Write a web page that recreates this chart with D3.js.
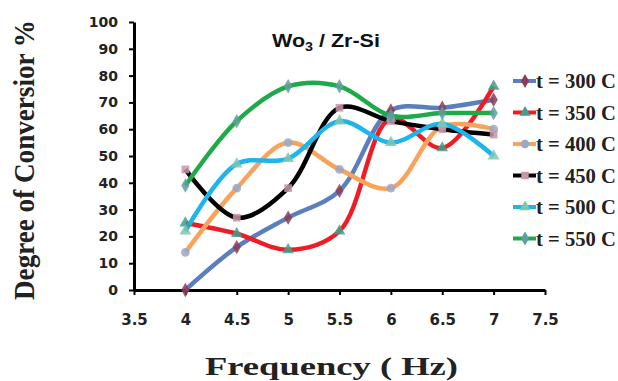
<!DOCTYPE html>
<html>
<head>
<meta charset="utf-8">
<script src="https://cdn.jsdelivr.net/npm/d3@7"></script>
<style>
  body { margin: 0; background: #fff; }
  svg { display: block; }
</style>
</head>
<body>
<figure id="chart" style="margin:0"></figure>
<script>
// frequency (Hz)
const freqs = [4, 4.5, 5, 5.5, 6, 6.5, 7];
const xTicks = [3.5, 4, 4.5, 5, 5.5, 6, 6.5, 7, 7.5];
const yTicks = [0, 10, 20, 30, 40, 50, 60, 70, 80, 90, 100];

const seriesNames = ["t = 300 C", "t = 350 C", "t = 400 C", "t = 450 C", "t = 500 C", "t = 550 C"];
const t300 = [0, 16, 27, 37, 67, 68, 71];
const t350 = [25, 21, 15, 22, 64, 53, 76];
const t400 = [14, 38, 55, 45, 38, 61, 60];
const t450 = [45, 27, 38, 68, 63, 60, 58];
const t500 = [22, 47, 49, 63, 55, 62, 50];
const t550 = [39, 63, 76, 76, 65, 66, 66];

const lineColors = ["#5b7fbd", "#ee1c24", "#f7a35c", "#000000", "#1fb5ea", "#1faa4a"];
const markerColors = ["#8c3c55", "#3f9f8c", "#9aa8c8", "#c995a8", "#7cc7b0", "#5f9ea0"];
const markerShapes = [d3.symbolDiamond, d3.symbolTriangle, d3.symbolCircle, d3.symbolSquare, d3.symbolTriangle, d3.symbolDiamond];

const series = [t300, t350, t400, t450, t500, t550].map((vals, i) => ({
  name: seriesNames[i],
  values: vals.map((v, j) => ({ f: freqs[j], v: v })),
  color: lineColors[i],
  marker: markerColors[i],
  shape: markerShapes[i]
}));

const width = 618, height = 381;
const svg = d3.select("#chart").append("svg")
  .attr("width", width)
  .attr("height", height);

const x = d3.scaleLinear().domain([3.5, 7.5]).range([134, 545]);
const y = d3.scaleLinear().domain([0, 100]).range([290, 22]);

// stretch a text horizontally so it fills the given width (source picture is widened)
function fitWidth(sel, w) {
  sel.attr("textLength", w).attr("lengthAdjust", "spacingAndGlyphs");
}

// axes
const xAxis = svg.append("g")
  .attr("transform", "translate(0," + y(0) + ")")
  .call(d3.axisBottom(x).tickValues(xTicks).tickSize(5).tickSizeOuter(0)
    .tickFormat(d => String(d)));
const yAxis = svg.append("g")
  .attr("transform", "translate(" + x(3.5) + ",0)")
  .call(d3.axisLeft(y).tickValues(yTicks).tickSize(5).tickSizeOuter(0));

[xAxis, yAxis].forEach(g => {
  g.select(".domain").attr("stroke", "#000").attr("stroke-width", 3);
  g.selectAll(".tick line").attr("stroke", "#000").attr("stroke-width", 2);
  g.selectAll(".tick text")
    .attr("font-family", "DejaVu Sans, sans-serif")
    .attr("font-weight", "bold")
    .attr("fill", "#222");
});
xAxis.selectAll(".tick text").attr("font-size", 15).attr("y", 0).attr("dy", 0)
  .attr("transform", "translate(0,35)");
yAxis.selectAll(".tick text").attr("font-size", 14).attr("x", -16);

// lines
const line = d3.line()
  .x(d => x(d.f))
  .y(d => y(d.v))
  .curve(d3.curveCatmullRom.alpha(0.5));

const plot = svg.append("g");
series.forEach(s => {
  plot.append("path")
    .datum(s.values)
    .attr("fill", "none")
    .attr("stroke", s.color)
    .attr("stroke-width", 4.5)
    .attr("stroke-linejoin", "round")
    .attr("d", line);
});
series.forEach(s => {
  plot.selectAll(null)
    .data(s.values)
    .enter()
    .append("path")
    .attr("transform", d => "translate(" + x(d.f) + "," + y(d.v) + ")")
    .attr("d", d3.symbol().type(s.shape).size(60))
    .attr("fill", s.marker)
    .attr("opacity", 0.85);
});

// title
const title = svg.append("text")
  .attr("x", 272)
  .attr("y", 47)
  .attr("font-family", "Liberation Sans, Arial, sans-serif")
  .attr("font-weight", "bold")
  .attr("font-size", 18)
  .attr("fill", "#111");
title.append("tspan").text("Wo");
title.append("tspan").attr("font-size", 12).attr("dy", 4).text("3");
title.append("tspan").attr("dy", -4).text(" / Zr-Si");
const tl = title.node().getComputedTextLength();
title.attr("transform", "translate(272,0) scale(" + (108 / tl) + ",1) translate(-272,0)");

// legend
const legend = svg.append("g");
series.forEach((s, i) => {
  const ly = 81 + i * 31.5;
  legend.append("line")
    .attr("x1", 513).attr("x2", 536)
    .attr("y1", ly).attr("y2", ly)
    .attr("stroke", s.color)
    .attr("stroke-width", 4);
  legend.append("path")
    .attr("transform", "translate(525," + ly + ")")
    .attr("d", d3.symbol().type(s.shape).size(55))
    .attr("fill", s.marker);
  const t = legend.append("text")
    .attr("x", 536)
    .attr("y", ly + 7)
    .attr("font-family", "Liberation Serif, Times New Roman, serif")
    .attr("font-weight", "bold")
    .attr("font-size", 20)
    .attr("fill", "#222")
    .text(s.name);
  fitWidth(t, 80);
});

// axis titles
const yt = svg.append("text")
  .attr("transform", "translate(34,160) scale(1.35,1) rotate(-90)")
  .attr("text-anchor", "middle")
  .attr("font-family", "Liberation Serif, Times New Roman, serif")
  .attr("font-weight", "bold")
  .attr("font-size", 22)
  .attr("fill", "#222")
  .text("Degree of Conversior  %");
fitWidth(yt, 280);

const xt = svg.append("text")
  .attr("x", 205)
  .attr("y", 375)
  .attr("font-family", "Liberation Serif, Times New Roman, serif")
  .attr("font-weight", "bold")
  .attr("font-size", 26)
  .attr("fill", "#222")
  .text("Frequency ( Hz)");
fitWidth(xt, 253);
</script>
</body>
</html>
